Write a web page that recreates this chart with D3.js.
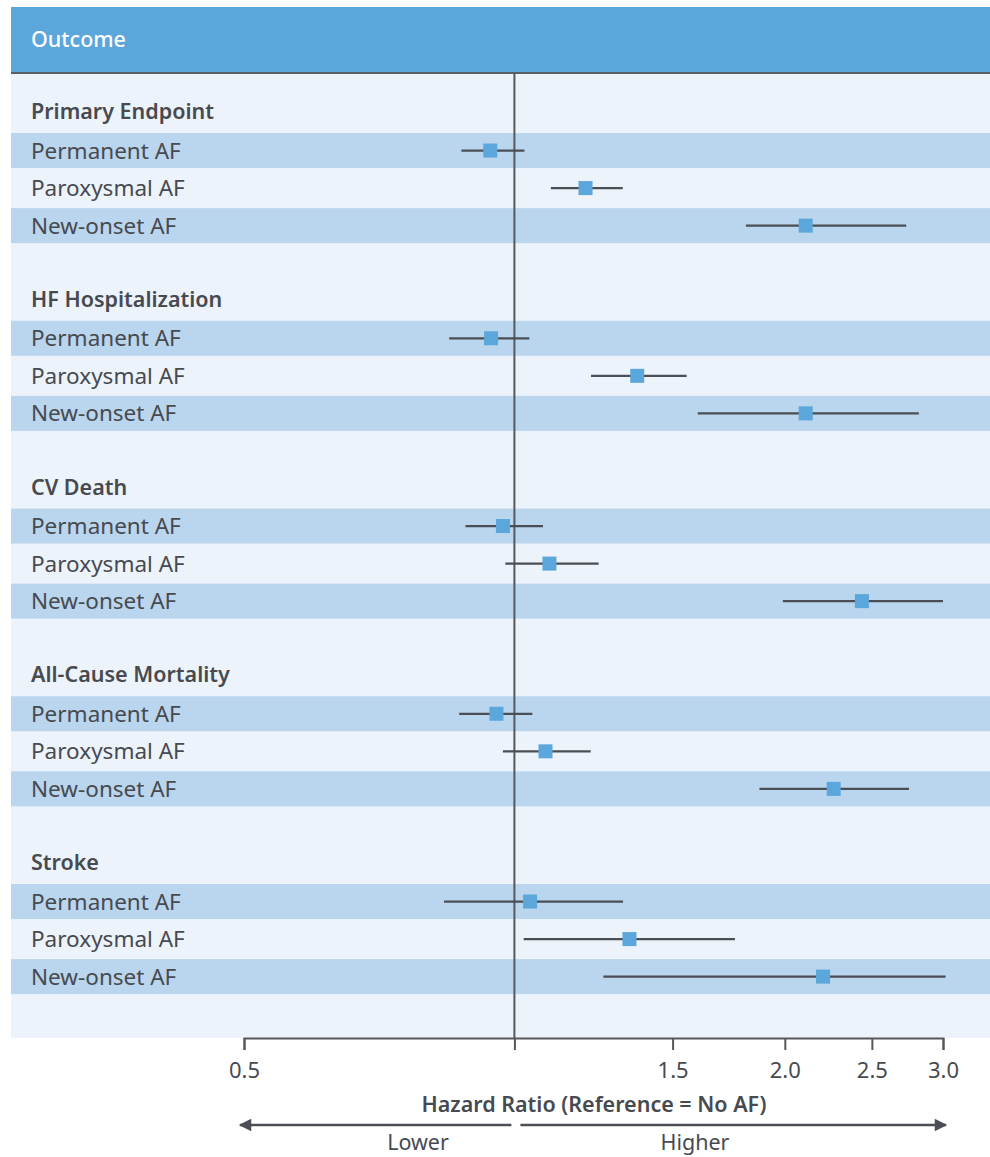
<!DOCTYPE html>
<html>
<head>
<meta charset="utf-8">
<script src="https://cdn.jsdelivr.net/npm/d3@7"></script>
<style>
  body { margin: 0; background: #fff; }
  text { font-family: "Noto Sans", "Open Sans", sans-serif; }
</style>
</head>
<body>
<script>
var width = 990, height = 1157;

// outcome groups and the AF types inside each one
const groups = ["Primary Endpoint", "HF Hospitalization", "CV Death", "All-Cause Mortality", "Stroke"];
const afTypes = ["Permanent AF", "Paroxysmal AF", "New-onset AF"];

// hazard ratio, lower CI, upper CI  (per group, per AF type)
const hr    = [[0.94, 1.20, 2.11], [0.942, 1.37, 2.11], [0.971, 1.094, 2.437], [0.955, 1.083, 2.267], [1.041, 1.343, 2.206]];
const ciLow = [[0.873, 1.098, 1.81], [0.846, 1.217, 1.60], [0.882, 0.977, 1.99], [0.868, 0.971, 1.874], [0.835, 1.024, 1.256]];
const ciHigh = [[1.026, 1.32, 2.73], [1.039, 1.555, 2.82], [1.076, 1.241, 3.0], [1.047, 1.216, 2.75], [1.321, 1.76, 3.02]];

const tickValues = [0.5, 1, 1.5, 2, 2.5, 3];
const tickLabels = ["0.5", "", "1.5", "2.0", "2.5", "3.0"];

var svg = d3.select("body").append("svg")
  .attr("width", width)
  .attr("height", height);

// one slot per line: group title, 3 rows, blank
var slots = [];
groups.forEach(function(g, gi) {
  slots.push({type: "title", label: g, key: "t" + gi});
  afTypes.forEach(function(a, ai) {
    slots.push({type: "row", label: a, key: gi + "-" + ai, gi: gi, ai: ai,
      hr: hr[gi][ai], lo: ciLow[gi][ai], hi: ciHigh[gi][ai]});
  });
  slots.push({type: "blank", key: "b" + gi});
});

var y = d3.scaleBand()
  .domain(slots.map(function(d) { return d.key; }))
  .range([94.2, 94.2 + slots.length * 37.55])
  .paddingInner(0);

var x = d3.scaleLog()
  .domain([0.5, 3])
  .range([244, 943]);

var panelLeft = 11, panelTop = 73, panelBottom = 1038;

// panel background
svg.append("rect")
  .attr("x", panelLeft).attr("y", panelTop)
  .attr("width", width - panelLeft).attr("height", panelBottom - panelTop)
  .attr("fill", "#edf3fb");

// header
svg.append("rect")
  .attr("x", panelLeft).attr("y", 7)
  .attr("width", width - panelLeft).attr("height", 66)
  .attr("fill", "#5ba6da");
svg.append("line")
  .attr("x1", panelLeft).attr("x2", width)
  .attr("y1", 73).attr("y2", 73)
  .attr("stroke", "#5a5f66").attr("stroke-width", 2);
svg.append("text")
  .attr("x", 31).attr("y", 47)
  .attr("fill", "#fff")
  .attr("font-size", 21.5)
  .attr("font-weight", 500)
  .text("Outcome");

var rows = slots.filter(function(d) { return d.type === "row"; });

// shaded bands for permanent and new-onset rows
svg.selectAll("rect.band")
  .data(rows.filter(function(d) { return d.ai !== 1; }))
  .enter().append("rect")
    .attr("class", "band")
    .attr("x", panelLeft)
    .attr("y", function(d) { return y(d.key) + y.bandwidth() / 2 - 17.5; })
    .attr("width", width - panelLeft)
    .attr("height", 35)
    .attr("fill", "#bad5ee");

// labels
svg.selectAll("text.label")
  .data(slots.filter(function(d) { return d.type !== "blank"; }))
  .enter().append("text")
    .attr("class", "label")
    .attr("x", 31)
    .attr("y", function(d) { return y(d.key) + y.bandwidth() / 2 + (d.type === "title" ? -1.5 : 0); })
    .attr("dy", "0.36em")
    .attr("font-size", function(d) { return d.type === "title" ? 21.5 : 22.5; })
    .attr("font-weight", function(d) { return d.type === "title" ? 600 : 400; })
    .attr("fill", "#474a4f")
    .text(function(d) { return d.label; });

// reference line at HR = 1
svg.append("line")
  .attr("x1", x(1)).attr("x2", x(1))
  .attr("y1", panelTop).attr("y2", panelBottom)
  .attr("stroke", "#55595e").attr("stroke-width", 2);

// confidence intervals
svg.selectAll("line.ci")
  .data(rows)
  .enter().append("line")
    .attr("class", "ci")
    .attr("x1", function(d) { return x(d.lo); })
    .attr("x2", function(d) { return x(d.hi); })
    .attr("y1", function(d) { return y(d.key) + y.bandwidth() / 2; })
    .attr("y2", function(d) { return y(d.key) + y.bandwidth() / 2; })
    .attr("stroke", "#4b4f55")
    .attr("stroke-width", 2.2);

// point estimates
var sq = 14;
svg.selectAll("rect.pt")
  .data(rows)
  .enter().append("rect")
    .attr("class", "pt")
    .attr("x", function(d) { return x(d.hr) - sq / 2; })
    .attr("y", function(d) { return y(d.key) + y.bandwidth() / 2 - sq / 2; })
    .attr("width", sq).attr("height", sq)
    .attr("fill", "#5ba6da");

// axis
var axis = svg.append("g")
  .attr("transform", "translate(0," + panelBottom + ")")
  .call(d3.axisBottom(x)
    .tickValues(tickValues)
    .tickFormat(function(d, i) { return tickLabels[i]; })
    .tickSize(12)
    .tickPadding(12));
axis.select(".domain").attr("stroke", "#55595e").attr("stroke-width", 2);
axis.selectAll(".tick line").attr("stroke", "#55595e").attr("stroke-width", 2);
axis.selectAll(".tick text")
  .attr("font-size", 22)
  .attr("fill", "#474a4f")
  .style("font-family", "'Noto Sans', sans-serif");

svg.append("text")
  .attr("x", 594).attr("y", 1112)
  .attr("text-anchor", "middle")
  .attr("font-size", 21.5)
  .attr("font-weight", 600)
  .attr("fill", "#474a4f")
  .text("Hazard Ratio (Reference = No AF)");

// direction arrows
var arrowY = 1125;
svg.append("defs").append("marker")
  .attr("id", "head")
  .attr("viewBox", "0 0 10 10")
  .attr("refX", 9).attr("refY", 5)
  .attr("markerWidth", 7).attr("markerHeight", 5)
  .attr("markerUnits", "strokeWidth")
  .attr("orient", "auto")
  .append("path")
    .attr("d", "M0,0L10,5L0,10Z")
    .attr("fill", "#4b4f55");

svg.append("line")
  .attr("x1", x(1) - 3).attr("x2", 240)
  .attr("y1", arrowY).attr("y2", arrowY)
  .attr("stroke", "#4b4f55").attr("stroke-width", 2.5)
  .attr("marker-end", "url(#head)");
svg.append("line")
  .attr("x1", x(1) + 6).attr("x2", 946)
  .attr("y1", arrowY).attr("y2", arrowY)
  .attr("stroke", "#4b4f55").attr("stroke-width", 2.5)
  .attr("marker-end", "url(#head)");

svg.append("text")
  .attr("x", 418).attr("y", 1150)
  .attr("text-anchor", "middle")
  .attr("font-size", 21.5)
  .attr("fill", "#474a4f")
  .text("Lower");
svg.append("text")
  .attr("x", 695).attr("y", 1150)
  .attr("text-anchor", "middle")
  .attr("font-size", 21.5)
  .attr("fill", "#474a4f")
  .text("Higher");
</script>
</body>
</html>
